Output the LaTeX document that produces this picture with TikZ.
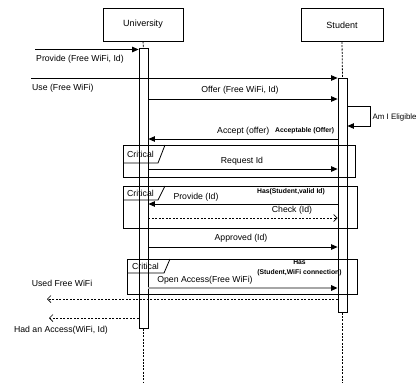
\documentclass[tikz,border=0pt]{standalone}
\usepackage{fontspec}
\setmainfont{Liberation Sans}
\usetikzlibrary{arrows.meta}
\begin{document}
\begin{tikzpicture}[x=1pt,y=-1pt,
  head/.style={draw, line width=0.8pt, minimum height=33pt, inner sep=0pt, font=\fontsize{9}{10}\selectfont},
  actbar/.style={draw, fill=white, line width=0.8pt, minimum width=9pt, inner sep=0pt},
  life/.style={line width=0.8pt, dash pattern=on 2pt off 1.3pt},
  msg/.style={line width=0.8pt, -{Triangle[length=6.5pt,width=5.5pt]}},
  ret/.style={line width=0.7pt, dash pattern=on 2pt off 1.5pt, -{Straight Barb[length=3.5pt,width=7pt]}},
  lbl/.style={inner sep=0pt, font=\fontsize{8.7}{10}\selectfont},
  note/.style={inner sep=0pt, font=\bfseries\fontsize{6.8}{8}\selectfont},
  frm/.style={draw, line width=0.8pt},
  tabtxt/.style={inner sep=0pt, font=\fontsize{8.7}{10}\selectfont}]
\useasboundingbox (0,0) rectangle (419,383);

% heads
\node[head, minimum width=80pt] (uni) at (143,24.5) {University};
\node[head, minimum width=82pt] (stu) at (342,25) {Student};

% lifelines
\coordinate (uend) at (143.5,383);
\coordinate (send) at (342.5,383);
\node[actbar, minimum height=280pt, anchor=north] (ubar) at (143.5,48) {};
\node[actbar, minimum height=234pt, anchor=north] (sbar) at (342.5,78) {};
\draw[life] (uni.south) -- (ubar.north);
\draw[life] (ubar.south) -- (uend);
\draw[life] (stu.south) -- (sbar.north);
\draw[life] (sbar.south) -- (send);

% frames
\draw[frm] (123,145) rectangle (355,177);
\draw[frm] (123,163) -- (158,163) -- (165,145);
\node[tabtxt] (c1) at (140.5,154) {Critical};
\draw[frm] (123,186) rectangle (357,228);
\draw[frm] (123,200) -- (158,200) -- (165,186);
\node[tabtxt] (c2) at (140.5,193) {Critical};
\draw[frm] (127,259) rectangle (357,294);
\draw[frm] (127,273) -- (164,273) -- (170,259);
\node[tabtxt] (c3) at (145.5,266) {Critical};

% messages
\coordinate (pin) at (35,49.5);
\draw[msg] (pin) -- (ubar.west |- pin);
\node[lbl, anchor=west] (m1) at (36,59.5) {Provide (Free WiFi, Id)};

\coordinate (uin) at (31,78);
\draw[msg] (uin) -- (sbar.north west);
\node[lbl, anchor=west] (m2) at (32,88) {Use (Free WiFi)};

\draw[msg] (ubar.east |- 0,99) -- (sbar.west |- 0,99);
\node[lbl] (m3) at (240,90) {Offer (Free WiFi, Id)};

\draw[msg] (sbar.east |- 0,106) -| (370,126) -- (sbar.east |- 0,126);
\node[inner sep=0pt, font=\fontsize{7.9}{9}\selectfont, anchor=west] (m4) at (372.5,117) {Am I Eligible};

\draw[msg] (sbar.west |- 0,139) -- (ubar.east |- 0,139);
\node[lbl, anchor=west] (m5) at (217,131) {Accept (offer)};
\node[note, anchor=west] (n5) at (275,131) {Acceptable (Offer)};

\draw[msg] (ubar.east |- 0,169) -- (sbar.west |- 0,169);
\node[lbl] (m6) at (242,161) {Request Id};

\draw[msg] (sbar.west |- 0,204) -- (ubar.east |- 0,204);
\node[lbl] (m7) at (196,197) {Provide (Id)};
\node[note, anchor=west] (n7) at (257,192) {Has(Student,valid Id)};

\draw[ret] (ubar.east |- 0,218) -- (sbar.west |- 0,218);
\node[lbl] (m8) at (292,210) {Check (Id)};

\draw[msg] (ubar.east |- 0,247) -- (sbar.west |- 0,247);
\node[lbl] (m9) at (241,238) {Approved (Id)};

\draw[line width=1.4pt, gray!70, -{Triangle[length=6.5pt,width=5.5pt,color=black]}] (ubar.east |- 0,288) -- (sbar.west |- 0,288);
\node[lbl] (m10) at (205,280) {Open Access(Free WiFi)};
\node[note] (n10a) at (299.5,262) {Has};
\node[note] (n10b) at (299.5,273) {(Student,WiFi connection)};

\coordinate (uout) at (47,299);
\draw[ret] (sbar.west |- uout) -- (uout);
\node[lbl] (m11) at (62,283) {Used Free WiFi};

\coordinate (hout) at (49,318);
\draw[ret] (ubar.west |- hout) -- (hout);
\node[lbl] (m12) at (61,330) {Had an Access(WiFi, Id)};
\end{tikzpicture}
\end{document}
